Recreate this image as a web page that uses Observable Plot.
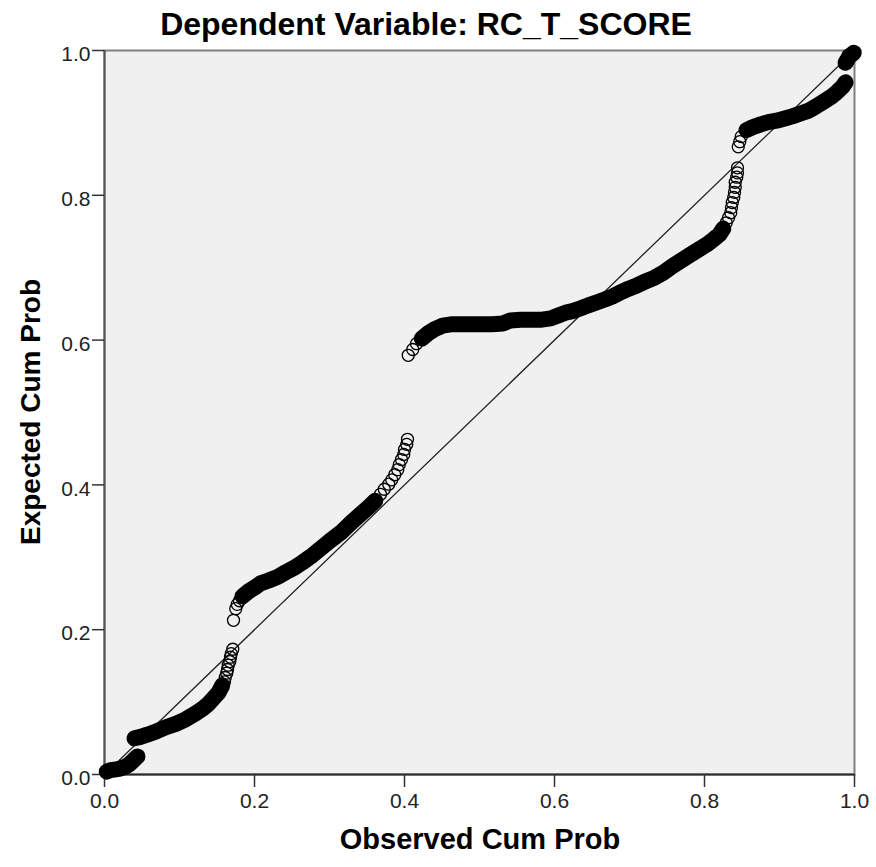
<!DOCTYPE html>
<html>
<head>
<meta charset="utf-8">
<script src="https://cdn.jsdelivr.net/npm/d3@7"></script>
<script src="https://cdn.jsdelivr.net/npm/@observablehq/plot@0.6"></script>
<style>
  html, body { margin: 0; padding: 0; background: #ffffff; }
  #chart { width: 876px; height: 867px; }
</style>
</head>
<body>
<div id="chart"></div>
<script>
// ---- Data ----
const titleText = "Dependent Variable: RC_T_SCORE";
const xLabel = "Observed Cum Prob";
const yLabel = "Expected Cum Prob";
const xTicks = [0, 0.2, 0.4, 0.6, 0.8, 1.0];
const yTicks = [0, 0.2, 0.4, 0.6, 0.8, 1.0];
const diagonal = [0, 1];

const observed = [
  // a
  0.003,0.008,0.015,0.021,0.028,0.033,0.037,0.041,0.044,
  // b
  0.040,0.048,0.057,0.068,0.081,0.095,0.108,0.121,0.131,0.139,0.145,0.152,0.157,
  // b-open
  0.160,0.161,0.163,0.164,0.165,0.167,0.168,0.169,0.171,
  // c-open
  0.172,0.175,0.177,0.180,
  // c
  0.184,0.192,0.200,0.208,0.219,0.231,0.241,0.252,0.264,0.275,0.288,0.301,0.315,0.328,0.341,0.352,0.361,
  // c-open2
  0.368,0.373,0.379,0.383,0.387,0.391,0.393,0.396,0.399,0.400,0.403,0.404,
  // d-open
  0.405,0.411,0.416,
  // d
  0.423,0.431,0.440,0.451,0.464,0.477,0.491,0.504,0.517,0.531,
  0.541,0.555,0.568,0.581,0.595,0.605,0.615,0.624,0.635,0.645,
  0.656,0.667,0.677,0.688,0.699,0.709,0.721,0.733,0.745,0.757,
  0.769,0.781,0.792,0.803,0.812,0.820,0.825,
  // d-open2
  0.829,0.832,0.835,0.836,0.837,0.839,0.840,0.841,0.841,0.843,0.844,0.844,
  // e-open
  0.845,0.847,0.849,
  // e
  0.856,0.864,0.875,0.885,0.896,0.907,0.917,0.928,0.939,0.949,0.960,0.969,0.977,0.984,0.988,
  // f
  0.988,0.991,0.993,0.996,0.999
];

const expected = [
  // a
  0.004,0.006,0.007,0.008,0.011,0.014,0.018,0.022,0.025,
  // b
  0.050,0.052,0.055,0.059,0.065,0.070,0.076,0.084,0.091,0.098,0.105,0.113,0.123,
  // b-open
  0.128,0.134,0.140,0.145,0.151,0.156,0.162,0.167,0.173,
  // c-open
  0.213,0.229,0.235,0.240,
  // c
  0.246,0.253,0.258,0.264,0.268,0.273,0.279,0.285,0.293,0.301,0.312,0.323,0.334,0.347,0.359,0.369,0.378,
  // c-open2
  0.387,0.394,0.401,0.407,0.414,0.421,0.428,0.435,0.442,0.449,0.456,0.463,
  // d-open
  0.579,0.587,0.595,
  // d
  0.602,0.609,0.615,0.620,0.622,0.622,0.622,0.622,0.622,0.623,
  0.627,0.628,0.628,0.628,0.630,0.634,0.638,0.640,0.644,0.648,
  0.652,0.656,0.660,0.666,0.671,0.675,0.681,0.686,0.693,0.702,
  0.710,0.718,0.725,0.732,0.739,0.746,0.754,
  // d-open2
  0.762,0.769,0.776,0.783,0.790,0.797,0.804,0.811,0.818,0.825,0.831,0.838,
  // e-open
  0.867,0.874,0.881,
  // e
  0.890,0.894,0.898,0.901,0.903,0.906,0.909,0.913,0.917,0.923,0.930,0.936,0.943,0.950,0.956,
  // f
  0.983,0.988,0.992,0.994,0.997
];

// runs of consecutive points (dense runs render as solid bands of overlapping circles)
const runNames = ["a","b","b-open","c-open","c","c-open2","d-open","d","d-open2","e-open","e","f"];
const runSizes = [9,13,9,4,17,12,3,37,12,3,15,5];
const solidRuns = ["a","b","c","d","e","f"];

// ---- Build table ----
const runOf = runNames.flatMap((n, i) => Array(runSizes[i]).fill(n));
const points = observed.map((x, i) => ({x, y: expected[i], run: runOf[i]}));
const solidPoints = points.filter(d => solidRuns.includes(d.run));
const fmt = d3.format(".1f");
const FONT = '"Liberation Sans", Arial, Helvetica, sans-serif';

const svg = Plot.plot({
  width: 876,
  height: 867,
  marginLeft: 104,
  marginRight: 22,
  marginTop: 50,
  marginBottom: 93,
  x: {domain: [0, 1]},
  y: {domain: [0, 1]},
  style: {fontFamily: FONT, fontSize: "21px", color: "#222", background: "#ffffff", overflow: "visible"},
  marks: [
    Plot.frame({fill: "#f0f0f0"}),
    Plot.frame({stroke: "#808080", strokeWidth: 2}),
    Plot.ruleY([0], {stroke: "#2a2a2a", strokeWidth: 2}),
    Plot.ruleX([0], {stroke: "#555555", strokeWidth: 2}),
    Plot.axisX({ticks: xTicks, tickFormat: fmt, tickSize: 13, tickPadding: 6, label: null, stroke: "#333", strokeWidth: 1.5}),
    Plot.axisY({ticks: yTicks, tickSize: 12, fill: "none", label: null, stroke: "#333", strokeWidth: 1.5}),
    Plot.axisY({ticks: yTicks, tickFormat: fmt, tickSize: 0, tickPadding: 14, dy: 4, label: null}),
    Plot.line(diagonal, {x: d => d, y: d => d, stroke: "#222", strokeWidth: 1.3}),
    Plot.line(solidPoints, {x: "x", y: "y", z: "run", stroke: "black", strokeWidth: 16, strokeLinecap: "round", strokeLinejoin: "round"}),
    Plot.dot(points, {x: "x", y: "y", r: 6, stroke: "black", strokeWidth: 1.3, fill: "none"})
  ]
});

const s = d3.select(svg);
s.append("text")
  .attr("x", 426).attr("y", 35)
  .attr("text-anchor", "middle")
  .attr("font-family", FONT).attr("font-size", 32).attr("font-weight", "bold")
  .attr("fill", "#000")
  .text(titleText);
s.append("text")
  .attr("x", 480).attr("y", 849)
  .attr("text-anchor", "middle")
  .attr("font-family", FONT).attr("font-size", 29).attr("font-weight", "bold")
  .attr("fill", "#000")
  .text(xLabel);
s.append("text")
  .attr("transform", "translate(40,412) rotate(-90)")
  .attr("text-anchor", "middle")
  .attr("font-family", FONT).attr("font-size", 28).attr("font-weight", "bold")
  .attr("fill", "#000")
  .text(yLabel);

document.getElementById("chart").appendChild(svg);
</script>
</body>
</html>
